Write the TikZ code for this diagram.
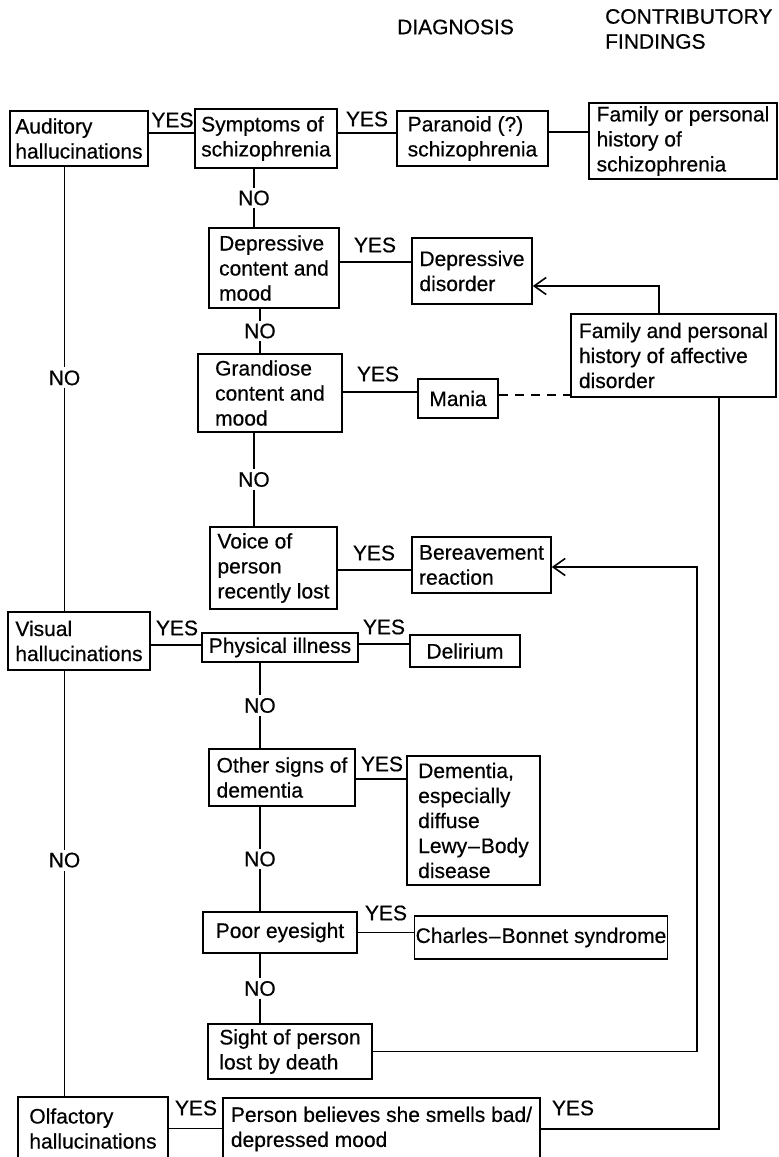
\documentclass[tikz,border=0pt]{standalone}
\usepackage{fontspec}
\setmainfont{Liberation Sans}[FakeBold=0.5]
\usetikzlibrary{arrows.meta,calc}

\tikzset{
  txt/.style={font=\fontsize{21}{25}\selectfont},
  box/.style={txt, draw, line width=1.6pt, align=left, inner xsep=1pt, inner ysep=1pt},
  lbl/.style={txt, inner sep=1pt},
  no/.style={lbl, fill=white, inner ysep=3pt},
  link/.style={line width=1.6pt},
  arr/.style={link, -{Straight Barb[length=12pt,width=17pt,line width=1.6pt]}},
}

% box helper: name, left, top, right, bottom, text
\newcommand{\flowbox}[6]{%
  \node[box, minimum width={(#4)-(#2)}, minimum height={(#5)-(#3)}]
    (#1) at ({((#2)+(#4))/2},{((#3)+(#5))/2}) {#6};}

\begin{document}
\begin{tikzpicture}[x=1pt, y=-1pt]
\useasboundingbox (0,0) rectangle (779,1157);

% column headings
\node[lbl] (hdiag) at (455.5,27) {DIAGNOSIS};
\node[lbl, align=left, anchor=west] (hcontr) at (604,29) {CONTRIBUTORY\\FINDINGS};

% boxes
\flowbox{A}{10}{111}{148}{166}{Auditory\\hallucinations}
\flowbox{B}{195}{109}{337}{168}{Symptoms of\\schizophrenia}
\flowbox{C}{397}{111}{548}{166}{Paranoid (?)\\schizophrenia}
\flowbox{D}{589}{103}{777}{179}{Family or personal\\history of\\schizophrenia}
\flowbox{E}{209}{228}{339}{308}{Depressive\\content and\\mood}
\flowbox{F}{412}{238}{532}{304}{Depressive\\disorder}
\flowbox{G}{571}{314}{776}{397}{Family and personal\\history of affective\\disorder}
\flowbox{H}{198}{354}{342}{432}{Grandiose\\content and\\mood}
\flowbox{I}{418}{379}{498}{418}{Mania}
\flowbox{J}{210}{527}{337}{609}{Voice of\\person\\recently lost}
\flowbox{K}{412}{537}{551}{593}{Bereavement\\reaction}
\flowbox{L}{8}{612}{150}{670}{Visual\\hallucinations}
\flowbox{M}{202}{633}{358}{662}{Physical illness}
\flowbox{N}{410}{635}{520}{667}{Delirium}
\flowbox{O}{209}{749}{355}{806}{Other signs of\\dementia}
\flowbox{P}{407}{756}{540}{885}{Dementia,\\especially\\diffuse\\Lewy\kern1pt–\kern1pt Body\\disease}
\flowbox{Q}{203}{912}{357}{953}{Poor eyesight}
\flowbox{R}{416}{916}{666}{959}{Charles\kern1pt–\kern1pt Bonnet syndrome}
\flowbox{S}{208}{1024}{372}{1079}{Sight of person\\lost by death}
\flowbox{T}{18}{1097}{168}{1160}{Olfactory\\hallucinations}
\flowbox{U}{223}{1098}{540}{1160}{Person believes she smells bad/\\depressed mood}

% YES labels
\node[lbl] (y1) at (172.5,120) {YES};
\node[lbl] (y2) at (367,119) {YES};
\node[lbl] (y3) at (375,245) {YES};
\node[lbl] (y4) at (378,374) {YES};
\node[lbl] (y5) at (374,553) {YES};
\node[lbl] (y6) at (177,628) {YES};
\node[lbl] (y7) at (384,627) {YES};
\node[lbl] (y8) at (382,764) {YES};
\node[lbl] (y9) at (386,913) {YES};
\node[lbl] (y10) at (196,1108) {YES};
\node[lbl] (y11) at (573,1108) {YES};

% vertical guide positions
\coordinate (lx) at (64.5,0);
\coordinate (cA) at (254,0);
\coordinate (cB) at (260,0);
\coordinate (loopx) at (697,0);
\coordinate (affx) at (719,0);

% YES branches
\draw[link] ([yshift=5.5pt]A.east) -- ([yshift=5.5pt]A.east -| B.west);
\draw[link] ([yshift=5.5pt]B.east) -- ([yshift=5.5pt]B.east -| C.west);
\draw[link] ([yshift=6.5pt]C.east) -- ([yshift=6.5pt]C.east -| D.west);
\draw[link] ([yshift=6pt]E.east) -- ([yshift=6pt]E.east -| F.west);
\draw[link] ([yshift=1pt]H.east) -- ([yshift=1pt]H.east -| I.west);
\draw[link] ([yshift=-2pt]J.east) -- ([yshift=-2pt]J.east -| K.west);
\draw[link] ([yshift=-4pt]L.east) -- ([yshift=-4pt]L.east -| M.west);
\draw[link] ([yshift=3.5pt]M.east) -- ([yshift=3.5pt]M.east -| N.west);
\draw[link] ([yshift=-1.5pt]O.east) -- ([yshift=-1.5pt]O.east -| P.west);
\draw[link] (Q.east) -- (Q.east -| R.west);
\draw[link] (T.east) -- (T.east -| U.west);

% contributory findings
\draw[link, dash pattern=on 9pt off 7pt] ([yshift=3.5pt]I.east) -- ([yshift=3.5pt]I.east -| G.west);
\draw[arr] ([xshift=-14.5pt]G.north) |- ([yshift=-15pt]F.east);
\draw[arr] (S.east) -| ([yshift=-2pt]K.east -| loopx) -- ([yshift=-2pt]K.east);
\draw[link] (U.east) -| (G.south -| affx);

% NO branches
\draw[link] (A.south -| lx) -- node[no, pos=0.475] {NO} (L.north -| lx);
\draw[link] (L.south -| lx) -- node[no, pos=0.445] {NO} (T.north -| lx);
\draw[link] (B.south -| cA) -- node[no] {NO} (E.north -| cA);
\draw[link] (E.south -| cB) -- node[no] {NO} (H.north -| cB);
\draw[link] (H.south -| cA) -- node[no] {NO} (J.north -| cA);
\draw[link] (M.south -| cB) -- node[no] {NO} (O.north -| cB);
\draw[link] (O.south -| cB) -- node[no] {NO} (Q.north -| cB);
\draw[link] (Q.south -| cB) -- node[no] {NO} (S.north -| cB);
\end{tikzpicture}
\end{document}
